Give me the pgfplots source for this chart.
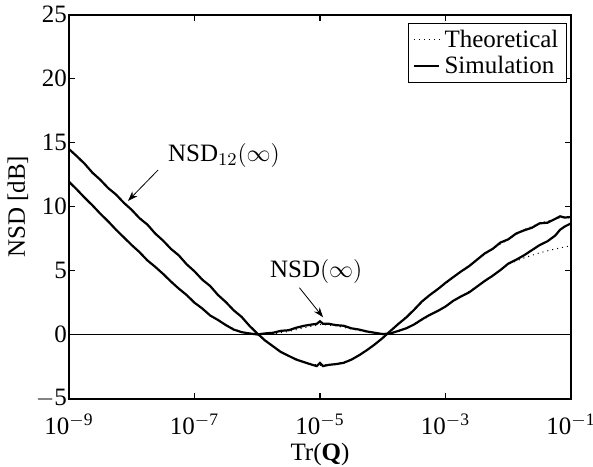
\documentclass[border=0pt]{standalone}
\usepackage{fontspec}
\setmainfont{Liberation Serif}
\usepackage{pgfplots}
\pgfplotsset{compat=1.18}
\usetikzlibrary{arrows.meta}

% theoretical curves (smooth)
\pgfplotstableread{
x y
1e-9 14.5
1.78e-9 13.3
3.16e-9 12.1
5.62e-9 10.9
1e-8 9.75
1.78e-8 8.55
3.16e-8 7.35
5.62e-8 6.15
1e-7 4.95
1.78e-7 3.75
3.16e-7 2.55
5.62e-7 1.35
1e-6 0.1
1.78e-6 -0.9
3.16e-6 -1.65
5.62e-6 -2.15
1e-5 -2.4
1.78e-5 -2.3
3.16e-5 -1.95
5.62e-5 -1.2
1e-4 -0.25
1.78e-4 0.85
3.16e-4 1.95
5.62e-4 3.1
1e-3 4.0
1.78e-3 4.95
3.16e-3 5.85
5.62e-3 6.7
1e-2 7.45
1.78e-2 8.2
3.16e-2 8.7
5.62e-2 9.05
7.94e-2 9.2
1e-1 9.1
}\thAA
\pgfplotstableread{
x y
1e-9 11.95
1.78e-9 10.7
3.16e-9 9.45
5.62e-9 8.2
1e-8 7.0
1.78e-8 5.8
3.16e-8 4.75
5.62e-8 3.6
1e-7 2.5
1.78e-7 1.5
3.16e-7 0.75
5.62e-7 0.2
1e-6 0.0
1.78e-6 0.05
3.16e-6 0.25
5.62e-6 0.55
1e-5 0.8
1.78e-5 0.7
3.16e-5 0.45
5.62e-5 0.2
1e-4 0.0
1.78e-4 0.25
3.16e-4 0.75
5.62e-4 1.5
1e-3 2.2
1.78e-3 3.0
3.16e-3 3.75
5.62e-3 4.6
1e-2 5.5
1.78e-2 6.0
3.16e-2 6.4
5.62e-2 6.7
1e-1 6.95
}\thBB
% simulation curves (slightly noisy)
\pgfplotstableread{
x y
1e-9 14.5
1.33e-9 13.95
1.78e-9 13.35
2.37e-9 12.65
3.16e-9 12.1
4.22e-9 11.45
5.62e-9 10.95
7.5e-9 10.3
1e-8 9.75
1.33e-8 9.1
1.78e-8 8.6
2.37e-8 7.9
3.16e-8 7.35
4.22e-8 6.7
5.62e-8 6.2
7.5e-8 5.5
1e-7 4.95
1.33e-7 4.3
1.78e-7 3.8
2.37e-7 3.1
3.16e-7 2.55
4.22e-7 1.9
5.62e-7 1.4
7.5e-7 0.7
1e-6 0.1
1.33e-6 -0.45
1.78e-6 -0.9
2.37e-6 -1.35
3.16e-6 -1.65
4.22e-6 -1.95
5.62e-6 -2.15
7.5e-6 -2.35
8.9e-6 -2.45
1e-5 -2.2
1.12e-5 -2.45
1.4e-5 -2.35
1.78e-5 -2.3
2.37e-5 -2.2
3.16e-5 -1.95
4.22e-5 -1.6
5.62e-5 -1.2
7.5e-5 -0.75
1e-4 -0.25
1.33e-4 0.3
1.78e-4 0.85
2.37e-4 1.35
3.16e-4 1.95
4.22e-4 2.6
5.62e-4 3.1
7.5e-4 3.55
1e-3 4.05
1.33e-3 4.5
1.78e-3 4.95
2.37e-3 5.35
3.16e-3 5.85
4.22e-3 6.35
5.62e-3 6.7
7.5e-3 7.2
1e-2 7.45
1.33e-2 7.9
1.78e-2 8.15
2.37e-2 8.35
3.16e-2 8.7
4.22e-2 8.75
5.62e-2 9.05
6.7e-2 9.25
7.94e-2 9.15
1e-1 9.2
}\simAA
\pgfplotstableread{
x y
1e-9 11.95
1.33e-9 11.35
1.78e-9 10.7
2.37e-9 10.1
3.16e-9 9.45
4.22e-9 8.85
5.62e-9 8.2
7.5e-9 7.6
1e-8 7.0
1.33e-8 6.45
1.78e-8 5.8
2.37e-8 5.3
3.16e-8 4.75
4.22e-8 4.15
5.62e-8 3.6
7.5e-8 3.1
1e-7 2.5
1.33e-7 2.05
1.78e-7 1.5
2.37e-7 1.15
3.16e-7 0.75
4.22e-7 0.4
5.62e-7 0.2
7.5e-7 0.1
1e-6 0.02
1.33e-6 0.1
1.78e-6 0.15
2.37e-6 0.3
3.16e-6 0.35
4.22e-6 0.55
5.62e-6 0.7
7.5e-6 0.8
8.9e-6 0.85
1e-5 1.05
1.12e-5 0.85
1.4e-5 0.85
1.78e-5 0.75
2.37e-5 0.7
3.16e-5 0.5
4.22e-5 0.4
5.62e-5 0.25
7.5e-5 0.15
1e-4 0.05
1.33e-4 0.1
1.78e-4 0.3
2.37e-4 0.5
3.16e-4 0.8
4.22e-4 1.2
5.62e-4 1.55
7.5e-4 1.85
1e-3 2.2
1.33e-3 2.65
1.78e-3 3.0
2.37e-3 3.3
3.16e-3 3.75
4.22e-3 4.2
5.62e-3 4.6
7.5e-3 5.05
1e-2 5.55
1.33e-2 5.85
1.78e-2 6.2
2.37e-2 6.6
3.16e-2 7.0
4.22e-2 7.3
5.62e-2 7.75
6.7e-2 8.2
7.94e-2 8.45
1e-1 8.7
}\simBB

\begin{document}%
\begin{tikzpicture}[font=\fontsize{12.5}{15}\selectfont]
\begin{semilogxaxis}[
    at={(0pt,0pt)}, anchor=south west,
    scale only axis,
    width=251pt, height=192pt,
    xmin=1e-9, xmax=1e-1,
    ymin=-5, ymax=25,
    xtick={1e-9,1e-7,1e-5,1e-3,1e-1},
    xticklabels={10\textsuperscript{$-$9},10\textsuperscript{$-$7},10\textsuperscript{$-$5},10\textsuperscript{$-$3},10\textsuperscript{$-$1}},
    ytick={-5,0,5,10,15,20,25},
    yticklabels={$-$5,0,5,10,15,20,25},
    minor xtick={},
    tick align=inside,
    major tick length=3pt,
    axis line style={line width=0.9pt},
    tick style={line width=0.6pt, black},
    xlabel={Tr(\textbf{Q})},
    ylabel={NSD [dB]},
    xticklabel style={anchor=base, yshift=-18pt},
    yticklabel style={xshift=2.5pt},
    xlabel style={at={(axis description cs:0.5,-0.144)}, anchor=center},
    ylabel style={at={(axis description cs:-0.1016,0.5)}, anchor=center},
    tick label style={font=\fontsize{12.5}{15}\selectfont},
    label style={font=\fontsize{12.5}{15}\selectfont},
    legend style={at={(0.992,0.978)}, anchor=north east, draw=black,
        line width=0.6pt, font=\fontsize{12.5}{15}\selectfont,
        inner xsep=2pt, inner ysep=1pt, row sep=-1pt},
    legend cell align=left,
    legend image post style={xscale=0.75},
    clip=true,
]
\addplot[black, dotted, line width=0.5pt] table {\thAA};
\addlegendentry{Theoretical}
\addplot[black, line width=1.1pt] table {\simAA};
\addlegendentry{Simulation}
\addplot[black, dotted, line width=0.5pt, forget plot] table {\thBB};
\addplot[black, line width=1.1pt, forget plot] table {\simBB};
\addplot[black, line width=0.4pt, forget plot] coordinates {(1e-9,0) (1e-1,0)};

\node at (axis cs:2.95e-7,14.0) {NSD$_{12}(\infty)$};
\draw[line width=0.4pt, -{Stealth[length=5pt,width=3.5pt]}] (axis cs:2.63e-8,12.87) -- (axis cs:8.7e-9,10.45);
\node at (axis cs:8.7e-6,4.95) {NSD$(\infty)$};
\draw[line width=0.4pt, -{Stealth[length=5pt,width=3.5pt]}] (axis cs:4.7e-6,3.67) -- (axis cs:1.12e-5,1.36);
\end{semilogxaxis}
\pgfresetboundingbox
\path[use as bounding box] (-34.5pt,-34pt) rectangle (262pt,199.35pt);
\end{tikzpicture}%
\end{document}
